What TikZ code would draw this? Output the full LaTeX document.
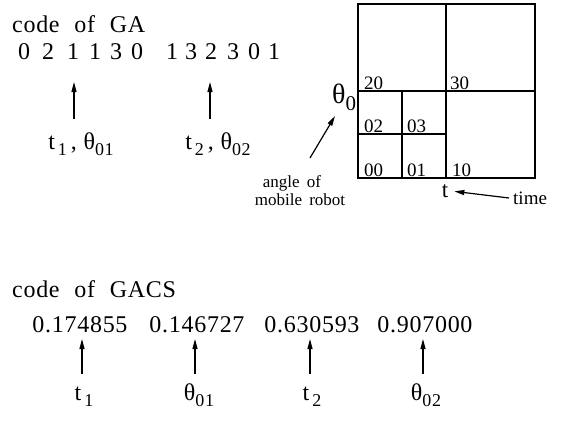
\documentclass[tikz,border=0pt]{standalone}
\usepackage{fontspec}
\setmainfont{Liberation Serif}
\newfontfamily\spaced[LetterSpace=3]{Liberation Serif}
\usetikzlibrary{arrows.meta}
\tikzset{
  big/.style={font=\spaced\fontsize{24}{26}\selectfont, inner sep=0pt},
  mid/.style={font=\fontsize{17}{19}\selectfont, inner sep=0pt},
  cell/.style={font=\fontsize{19}{20}\selectfont, inner sep=0pt, anchor=base west},
  digit/.style={big, anchor=base},
  arr/.style={line width=1.2pt, -{Triangle[length=10pt,width=5pt]}},
  gridline/.style={line width=1.6pt},
}
\newcommand{\lowsub}[1]{\raisebox{-6pt}{\fontsize{18}{18}\selectfont #1}}
\begin{document}
\begin{tikzpicture}[x=1pt,y=-1pt]
\useasboundingbox (0,0) rectangle (563,421);

% ---------- GA code ----------
\node[big, anchor=base west] (gatitle) at (12,32) {code\hspace{8pt} of\hspace{8pt} GA};
\foreach \d/\x [count=\i] in {0/24,2/48,1/73,1/95,3/116,0/137,1/172,3/191,2/211,3/233,0/254,1/274}
  \node[digit] (g\i) at (\x,59) {\d};

\coordinate (ga1t) at (74,119); \coordinate (ga1h) at (74,82);
\coordinate (ga2t) at (210,119); \coordinate (ga2h) at (210,82);
\draw[arr] (ga1t) -- (ga1h);
\draw[arr] (ga2t) -- (ga2h);

\node[big, anchor=base] (galab1) at (81,149) {t\hspace{3pt}\lowsub{1}\,, θ\lowsub{01}};
\node[big, anchor=base] (galab2) at (218,149) {t\hspace{3pt}\lowsub{2}\,, θ\lowsub{02}};

% ---------- partition of the (t, theta0) plane ----------
\draw[gridline] (358,4) rectangle (535,178);
\draw[gridline] (446,4) -- (446,178);
\draw[gridline] (358,91) -- (535,91);
\draw[gridline] (402,91) -- (402,178);
\draw[gridline] (358,134) -- (446,134);

\node[cell] (c20) at (364,89) {20};
\node[cell] (c30) at (450,89) {30};
\node[cell] (c02) at (364,132) {02};
\node[cell] (c03) at (407,132) {03};
\node[cell] (c00) at (364,176) {00};
\node[cell] (c01) at (407,176) {01};
\node[cell] (c10) at (452,176) {10};

\node[font=\fontsize{28}{28}\selectfont, inner sep=0pt, anchor=base west] (theta) at (332,103) {θ\raisebox{-7pt}{\fontsize{21}{21}\selectfont 0}};
\coordinate (angt) at (310,158); \coordinate (angh) at (335,116);
\draw[arr] (angt) -- (angh);
\node[mid, anchor=base] (angle) at (292,187) {angle\hspace{3pt} of};
\node[mid, anchor=base] (robot) at (300,205) {mobile\hspace{3pt} robot};

\node[font=\fontsize{23}{24}\selectfont, inner sep=0pt, anchor=base] (tlab) at (445,197) {t};
\node[font=\fontsize{19}{20}\selectfont, inner sep=0pt, anchor=base west] (time) at (513,204) {time};
\coordinate (timet) at (509,198);
\draw[arr, shorten >=6pt] (timet) -- (tlab.east);

% ---------- GACS code ----------
\node[big, anchor=base west] (gacstitle) at (12,297) {code\hspace{8pt} of\hspace{8pt} GACS};
\node[digit] (n1) at (80,332) {0.174855};
\node[digit] (n2) at (197,332) {0.146727};
\node[digit] (n3) at (312,332) {0.630593};
\node[digit] (n4) at (425,332) {0.907000};

\foreach \x [count=\i] in {82,195,310,423} {
  \coordinate (bt\i) at (\x,374);
  \coordinate (bh\i) at (\x,339);
  \draw[arr] (bt\i) -- (bh\i);
}

\node[big, anchor=base] (l1) at (84,400) {t\hspace{3pt}\lowsub{1}};
\node[big, anchor=base] (l2) at (199,400) {θ\lowsub{01}};
\node[big, anchor=base] (l3) at (312,400) {t\hspace{3pt}\lowsub{2}};
\node[big, anchor=base] (l4) at (426,400) {θ\lowsub{02}};
\end{tikzpicture}
\end{document}
